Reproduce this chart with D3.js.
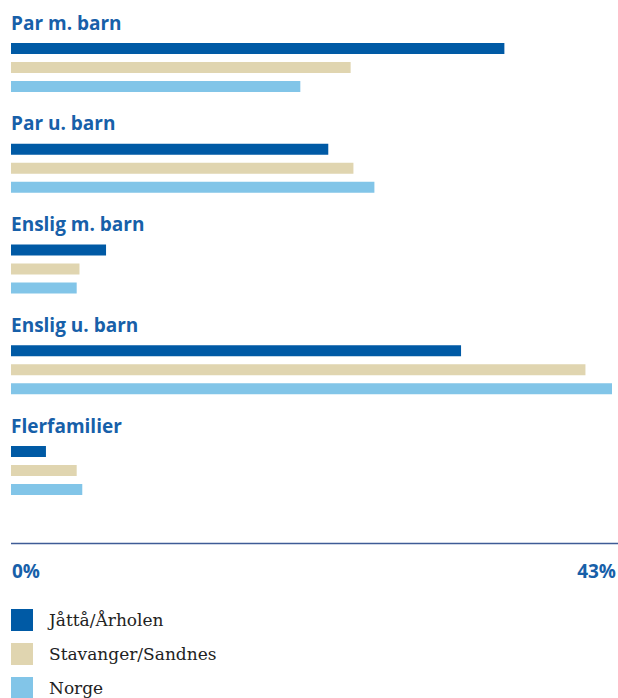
<!DOCTYPE html>
<html>
<head>
<meta charset="utf-8">
<script src="https://cdn.jsdelivr.net/npm/d3@7"></script>
<style>
  body { margin: 0; background: #fff; }
  .title { font-family: "Open Sans", sans-serif; font-weight: 700; fill: #1760a9; }
  .tick-label { font-family: "Open Sans", sans-serif; font-weight: 700; fill: #1760a9; }
  .legend-label { font-family: "DejaVu Serif", serif; fill: #222; }
</style>
</head>
<body>
<div id="chart"></div>
<script>
// household types, percent share
const categories = ["Par m. barn", "Par u. barn", "Enslig m. barn", "Enslig u. barn", "Flerfamilier"];
const series = ["Jåttå/Årholen", "Stavanger/Sandnes", "Norge"];
const jattaValues = [35.3, 22.7, 6.8, 32.2, 2.5];
const stavangerValues = [24.3, 24.5, 4.9, 41.1, 4.7];
const norgeValues = [20.7, 26.0, 4.7, 43.0, 5.1];
const tickLabels = ["0%", "43%"];
const xMax = 43;

const colors = ["#005aa5", "#e0d5b0", "#82c5e8"];

const width = 618, height = 698;

const svg = d3.select("#chart").append("svg")
    .attr("width", width)
    .attr("height", height);

const allValues = [jattaValues, stavangerValues, norgeValues];

// scales
const x = d3.scaleLinear().domain([0, xMax]).range([11, 612]);
const yGroup = d3.scaleBand().domain(categories).range([43, 43 + 100.75 * categories.length]);
const ySeries = d3.scaleBand().domain(series).range([0, 49]).paddingInner(8 / 19).paddingOuter(0);
const color = d3.scaleOrdinal().domain(series).range(colors);

const groups = svg.selectAll(".group")
    .data(categories)
    .enter()
    .append("g")
    .attr("class", "group")
    .attr("transform", d => `translate(0,${yGroup(d)})`);

groups.append("text")
    .attr("class", "title")
    .attr("x", 11)
    .attr("y", -13.5)
    .style("font-size", "19px")
    .text(d => d);

groups.selectAll("rect")
    .data((d, i) => series.map((s, j) => ({ series: s, value: allValues[j][i] })))
    .enter()
    .append("rect")
    .attr("x", x(0))
    .attr("y", d => ySeries(d.series))
    .attr("width", d => x(d.value) - x(0))
    .attr("height", ySeries.bandwidth())
    .style("fill", d => color(d.series));

// axis line
svg.append("line")
    .attr("x1", 11)
    .attr("x2", 618)
    .attr("y1", 543.5)
    .attr("y2", 543.5)
    .style("stroke", "#3f5c96")
    .style("stroke-width", 1.3);

// tick labels at 0 and max
svg.selectAll(".tick-label")
    .data([0, xMax])
    .enter()
    .append("text")
    .attr("class", "tick-label")
    .attr("x", (d, i) => i === 0 ? x(d) + 1 : 616)
    .attr("y", 578)
    .attr("text-anchor", (d, i) => i === 0 ? "start" : "end")
    .style("font-size", "19px")
    .text((d, i) => tickLabels[i]);

// legend
const legend = svg.selectAll(".legend")
    .data(series)
    .enter()
    .append("g")
    .attr("class", "legend")
    .attr("transform", (d, i) => `translate(11,${609 + i * 34})`);

legend.append("rect")
    .attr("width", 22)
    .attr("height", 22)
    .style("fill", d => color(d));

legend.append("text")
    .attr("class", "legend-label")
    .attr("x", 38)
    .attr("y", 17)
    .style("font-size", "17px")
    .text(d => d);
</script>
</body>
</html>
